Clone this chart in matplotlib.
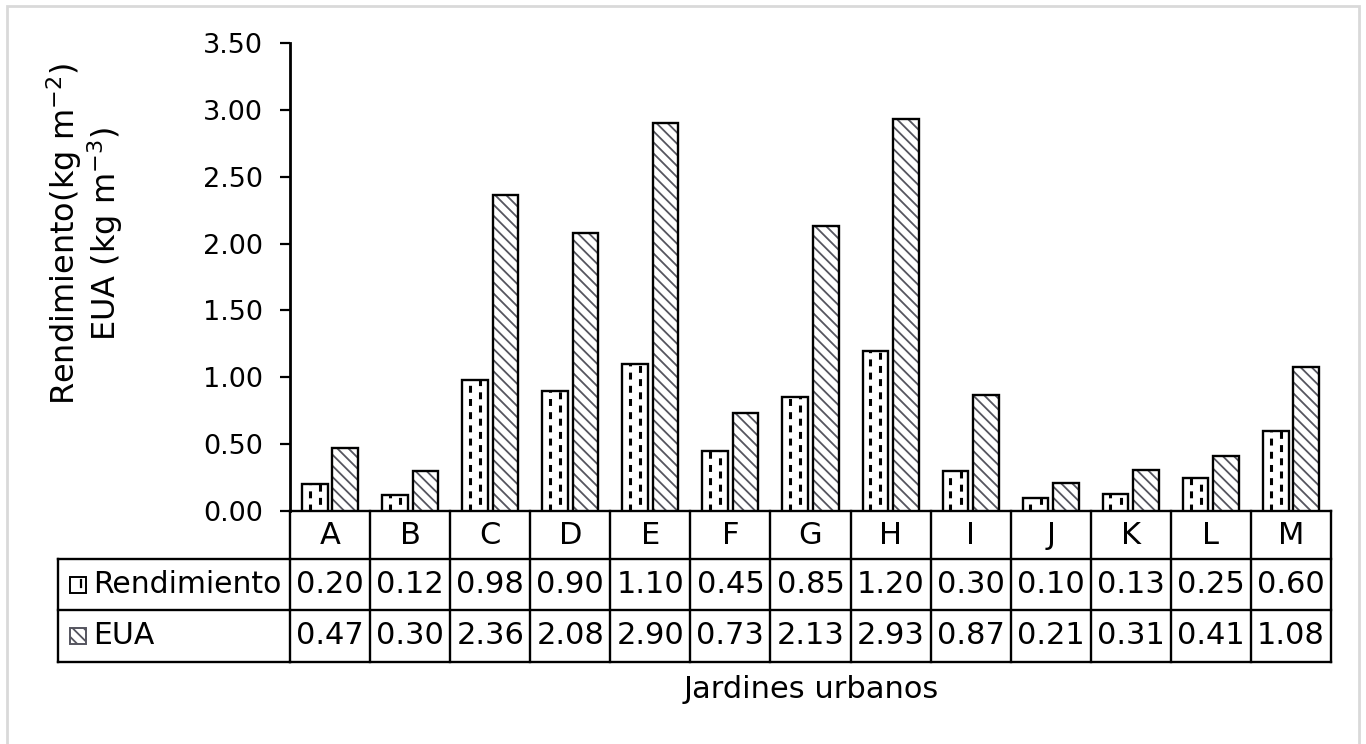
import numpy as np
import matplotlib.pyplot as plt
from matplotlib.patches import Rectangle
from matplotlib.transforms import blended_transform_factory

plt.rcParams['font.family'] = 'DejaVu Sans'
plt.rcParams['hatch.linewidth'] = 1.3
plt.rcParams['lines.scale_dashes'] = False

W, H = 1366, 744
fs_tab = 22
fs_lab = 21.5
fs_tick = 19.5

jardines = ['A', 'B', 'C', 'D', 'E', 'F', 'G', 'H', 'I', 'J', 'K', 'L', 'M']
rendimiento = [0.20, 0.12, 0.98, 0.90, 1.10, 0.45, 0.85, 1.20, 0.30, 0.10, 0.13, 0.25, 0.60]
eua = [0.47, 0.30, 2.36, 2.08, 2.90, 0.73, 2.13, 2.93, 0.87, 0.21, 0.31, 0.41, 1.08]
series_names = ['Rendimiento', 'EUA']
yticks = np.arange(0, 3.51, 0.5)


def fx(x):
    return x / W


def fy(y):
    return 1 - y / H


fig = plt.figure(figsize=(W / 100, H / 100), dpi=100)
ax = fig.add_axes([fx(290), fy(511), fx(1331) - fx(290), fy(43) - fy(511)])

idx = np.arange(len(jardines))
bw = 0.32
off = 0.19

# Rendimiento: white bars with staggered vertical dashes
bars_r = ax.bar(idx - off, rendimiento, bw, color='white', edgecolor='black',
                linewidth=1.7, zorder=3)
for b in bars_r:
    x0, w, h = b.get_x(), b.get_width(), b.get_height()
    for k, frac in enumerate((0.3, 0.7)):
        ax.plot([x0 + frac * w] * 2, [0, h], color='black', lw=2.2,
                linestyle=(k * 4.7, (5.0, 4.5)), zorder=4,
                dash_capstyle='butt')

# EUA: grey diagonal hatch, black outline on top
ax.bar(idx + off, eua, bw, color='white', edgecolor='#55555f', hatch='\\\\\\',
       linewidth=0, zorder=3)
ax.bar(idx + off, eua, bw, fill=False, edgecolor='black', linewidth=1.7, zorder=4)

ax.set_xlim(-0.5, len(jardines) - 0.5)
ax.set_ylim(0, 3.5)
ax.set_yticks(yticks)
ax.set_yticklabels(['%.2f' % v for v in yticks])
ax.set_xticks([])
ax.tick_params(axis='y', direction='out', length=7.5, width=1.6,
               labelsize=fs_tick, pad=12)
for s in ['top', 'right']:
    ax.spines[s].set_visible(False)
ax.spines['left'].set_linewidth(2)
ax.spines['bottom'].set_linewidth(1.7)

# data table under the axis
tr = blended_transform_factory(ax.transData, fig.transFigure)
rows_px = [511, 559, 610, 662]
x_left = -0.5
x_right = len(jardines) - 0.5
lab_left = fx(58)
lw_tab = 1.7

for yp in rows_px[1:]:
    ax.plot([x_left, x_right], [fy(yp)] * 2, color='black', lw=lw_tab,
            transform=tr, clip_on=False)
    fig.add_artist(plt.Line2D([lab_left, fx(290)], [fy(yp)] * 2, color='black',
                              lw=lw_tab))
for i in range(len(jardines) + 1):
    ax.plot([i - 0.5] * 2, [fy(rows_px[0]), fy(rows_px[-1])], color='black',
            lw=lw_tab, transform=tr, clip_on=False)
fig.add_artist(plt.Line2D([lab_left] * 2, [fy(rows_px[1]), fy(rows_px[-1])],
                          color='black', lw=lw_tab))

row_mid = [(fy(rows_px[i]) + fy(rows_px[i + 1])) / 2 for i in range(3)]
for i, j in enumerate(jardines):
    ax.text(i, row_mid[0], j, transform=tr, ha='center', va='center',
            fontsize=fs_tab)
    ax.text(i, row_mid[1], '%.2f' % rendimiento[i], transform=tr, ha='center',
            va='center', fontsize=fs_tab)
    ax.text(i, row_mid[2], '%.2f' % eua[i], transform=tr, ha='center',
            va='center', fontsize=fs_tab)

# row labels with small legend keys
key_w, key_h = 16, 16
for r, name in enumerate(series_names):
    yc = (rows_px[r + 1] + rows_px[r + 2]) / 2
    if r == 0:
        key = Rectangle((fx(70), fy(yc + key_h / 2)), fx(key_w), key_h / H,
                        facecolor='white', edgecolor='black', lw=1.4,
                        transform=fig.transFigure)
        fig.add_artist(key)
        fig.add_artist(plt.Line2D([fx(81)] * 2, [fy(yc - 5), fy(yc + 2)],
                                  color='black', lw=1.6))
    else:
        key = Rectangle((fx(70), fy(yc + key_h / 2)), fx(key_w), key_h / H,
                        facecolor='white', edgecolor='#55555f', hatch='\\\\\\',
                        lw=1.4, transform=fig.transFigure)
        fig.add_artist(key)
    fig.text(fx(93), fy(yc), name, ha='left', va='center', fontsize=fs_lab)

fig.text(fx(85), fy(234), 'Rendimiento(kg m$^{-2}$)\nEUA (kg m$^{-3}$)',
         rotation=90, ha='center', va='center', multialignment='center',
         fontsize=23, linespacing=1.05)
fig.text(fx(811), fy(690), 'Jardines urbanos', ha='center', va='center',
         fontsize=fs_tab)

# light frame around the whole chart
fig.add_artist(Rectangle((fx(7), fy(760)), fx(1352), 754 / H, fill=False,
                         edgecolor='#d9d9d9', lw=2, transform=fig.transFigure))

fig.savefig('out.png', dpi=100)
